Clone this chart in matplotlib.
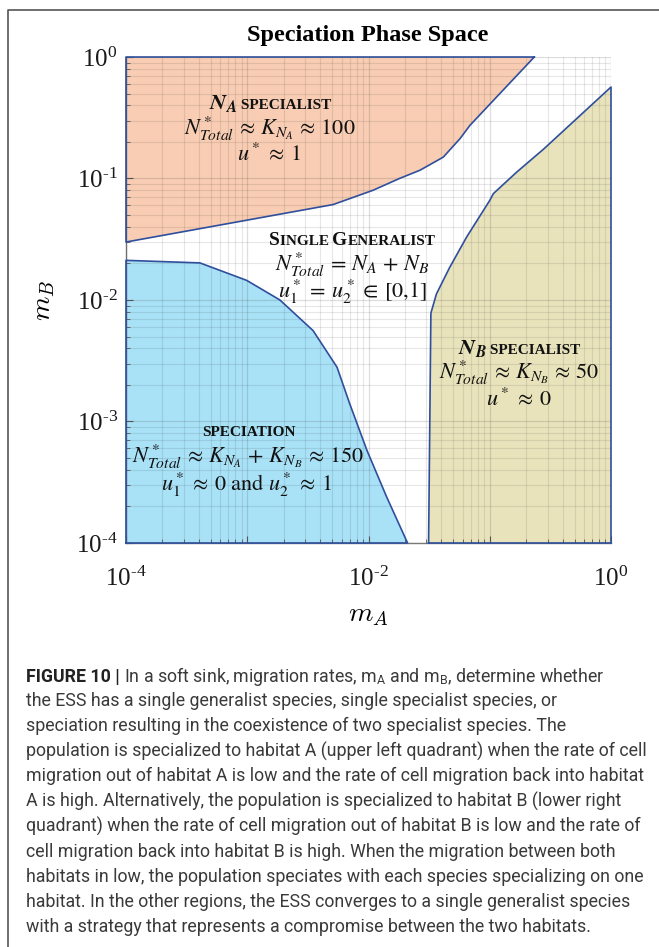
import numpy as np
import matplotlib
matplotlib.use('Agg')
import matplotlib.pyplot as plt
from matplotlib.lines import Line2D
from matplotlib.offsetbox import TextArea, HPacker, AnnotationBbox
from matplotlib.ticker import LogLocator, NullFormatter

plt.rcParams['mathtext.fontset'] = 'custom'
plt.rcParams['mathtext.rm'] = 'Liberation Serif'
plt.rcParams['mathtext.it'] = 'Liberation Serif:italic'
plt.rcParams['mathtext.bf'] = 'Liberation Serif:bold'
plt.rcParams['font.family'] = 'Liberation Serif'

# region boundaries (m_A, m_B)
na_mA = [1.0e-4, 5.1e-3, 1.09e-2, 1.8e-2, 2.66e-2, 4.14e-2, 5.69e-2, 6.87e-2, 0.233]
na_mB = [0.030, 0.061, 0.080, 0.100, 0.117, 0.150, 0.213, 0.274, 1.0]

spec_mA = [1.0e-4, 4.07e-4, 9.9e-4, 1.86e-3, 3.49e-3, 5.5e-3, 7.0e-3, 9.7e-3, 1.41e-2, 2.10e-2]
spec_mB = [0.0212, 0.0202, 0.0145, 0.0100, 5.6e-3, 2.8e-3, 1.4e-3, 5.8e-4, 2.4e-4, 1.0e-4]

nb_mA = [3.13e-2, 3.27e-2, 3.63e-2, 4.68e-2, 6.46e-2, 0.100, 0.107, 0.167, 0.277, 1.0]
nb_mB = [1.0e-4, 7.8e-3, 1.12e-2, 1.86e-2, 3.31e-2, 0.066, 0.075, 0.113, 0.174, 0.566]

xlim = (1e-4, 1.0)
ylim = (1e-4, 1.0)
major_ticks = [1e-4, 1e-3, 1e-2, 1e-1, 1e0]
x_labels = ['$10^{\u2010 4}$', '', '$10^{\u2010 2}$', '', '$10^{0}$']
y_labels = ['$10^{\u2010 4}$', '$10^{\u2010 3}$', '$10^{\u2010 2}$', '$10^{\u2010 1}$', '$10^{0}$']

caption_lines = [
    "In a soft sink, migration rates, m$_{\\mathregular{A}}$ and m$_{\\mathregular{B}}$, determine whether",
    "the ESS has a single generalist species, single specialist species, or",
    "speciation resulting in the coexistence of two specialist species. The",
    "population is specialized to habitat A (upper left quadrant) when the rate of cell",
    "migration out of habitat A is low and the rate of cell migration back into habitat",
    "A is high. Alternatively, the population is specialized to habitat B (lower right",
    "quadrant) when the rate of cell migration out of habitat B is low and the rate of",
    "cell migration back into habitat B is high. When the migration between both",
    "habitats in low, the population speciates with each species specializing on one",
    "habitat. In the other regions, the ESS converges to a single generalist species",
    "with a strategy that represents a compromise between the two habitats.",
]

c_orange = '#f8cdb3'
c_blue = '#a9e1f6'
c_beige = '#e9e3bc'
c_edge = '#2f4f9c'

W, H = 659, 947
fig = plt.figure(figsize=(W / 100, H / 100), dpi=100)
ax = fig.add_axes([126 / W, 1 - 543 / H, 485 / W, 486 / H])
ax.set_xscale('log')
ax.set_yscale('log')
ax.set_xlim(*xlim)
ax.set_ylim(*ylim)

# filled regions
ax.fill([xlim[0]] + na_mA + [xlim[0]], [ylim[1]] + na_mB + [ylim[1]],
        color=c_orange, lw=0, zorder=1)
ax.fill(spec_mA + [xlim[0]], spec_mB + [ylim[0]], color=c_blue, lw=0, zorder=1)
ax.fill(nb_mA + [xlim[1]], nb_mB + [ylim[0]], color=c_beige, lw=0, zorder=1)

# outlines
edge = dict(color=c_edge, lw=1.2, zorder=4, clip_on=False)
ax.plot([na_mA[-1], xlim[0], xlim[0]] + na_mA, [ylim[1], ylim[1], na_mB[0]] + na_mB, **edge)
ax.plot([xlim[0], xlim[0]] + spec_mA + [xlim[0]],
        [ylim[0], spec_mB[0]] + spec_mB + [ylim[0]], **edge)
ax.plot(nb_mA + [xlim[1], nb_mA[0]], nb_mB + [ylim[0], ylim[0]], **edge)

# grid on top of the fills
ax.set_axisbelow(False)
ax.grid(True, which='major', color='#262626', alpha=0.15, lw=0.9)
ax.grid(True, which='minor', color='#262626', alpha=0.11, lw=0.8)

for s in ['top', 'right']:
    ax.spines[s].set_visible(False)
for s in ['left', 'bottom']:
    ax.spines[s].set_color('#7a7a7a')
    ax.spines[s].set_linewidth(1.0)

ax.set_xticks(major_ticks)
ax.set_yticks(major_ticks)
ax.xaxis.set_minor_locator(LogLocator(base=10, subs=np.arange(2, 10), numticks=20))
ax.yaxis.set_minor_locator(LogLocator(base=10, subs=np.arange(2, 10), numticks=20))
ax.xaxis.set_minor_formatter(NullFormatter())
ax.yaxis.set_minor_formatter(NullFormatter())
ax.set_xticklabels(x_labels)
ax.set_yticklabels(y_labels)
ax.tick_params(which='both', direction='in', color='#555555', top=False, right=False)
ax.tick_params(which='major', length=5, labelsize=18, labelcolor='#1a1a1a')
ax.tick_params(which='minor', length=3)
ax.tick_params(axis='x', pad=17)
ax.tick_params(axis='y', pad=6)

fig.text(368 / W, 1 - 36 / H, 'Speciation Phase Space', ha='center', va='center',
         fontsize=17.5, fontweight='bold', family='Liberation Serif')
fig.text(368 / W, 1 - 615 / H, '$m_A$', ha='center', va='center', fontsize=20,
         math_fontfamily='cm')
fig.text(45 / W, 1 - 300 / H, '$m_B$', ha='center', va='center', fontsize=20,
         math_fontfamily='cm', rotation=90)


def place(parts, x, y, align=(0.5, 0.5)):
    areas = [TextArea(s, textprops=p) for s, p in parts]
    box = HPacker(children=areas, align='baseline', pad=0, sep=0)
    ab = AnnotationBbox(box, (x, H - y), xycoords='figure pixels', frameon=False,
                        box_alignment=align, pad=0)
    fig.add_artist(ab)


ink = '#111111'
big = dict(fontsize=14, color=ink, fontweight='bold', family='Liberation Serif')
small = dict(fontsize=11, color=ink, fontweight='bold', family='Liberation Serif')
mathp = dict(fontsize=16, color=ink, math_fontfamily='stix')
nlab = dict(fontsize=16, color=ink, math_fontfamily='stix')

# N_A specialist
place([(r'$\mathbfit{N_A}$', nlab), (' SPECIALIST', small)], 270, 103)
place([(r'$N^*_{Total}\,\approx\,K_{N_A}\,\approx\,100$', mathp)], 270, 129)
place([(r'$u^*\,\approx\,1$', mathp)], 269, 155)

# single generalist
place([('S', big), ('INGLE ', small), ('G', big), ('ENERALIST', small)], 352, 240)
place([(r'$N^*_{Total}\,=\,N_A\,+\,N_B$', mathp)], 352, 265)
place([(r'$u^*_1\,=\,u^*_2\,\in\,[0{,}1]$', mathp)], 352, 292)

# N_B specialist
place([(r'$\mathbfit{N_B}$', nlab), (' SPECIALIST', small)], 519, 348)
place([(r'$N^*_{Total}\,\approx\,K_{N_B}\,\approx\,50$', mathp)], 519, 373)
place([(r'$u^*\,\approx\,0$', mathp)], 519, 400)

# speciation
place([('SPECIATION', small)], 249, 432)
place([(r'$N^*_{Total}\,\approx\,K_{N_A}\,+\,K_{N_B}\,\approx\,150$', mathp)], 248, 457)
place([(r'$u^*_1\,\approx\,0\ \mathrm{and}\ u^*_2\,\approx\,1$', mathp)], 246, 485)

# caption
cap = dict(fontsize=12.8, color='#3a3a3a', family='Roboto')
capb = dict(fontsize=12.8, color='#222222', family='Roboto', fontweight='bold')
place([('FIGURE 10 | ', capb), (caption_lines[0], cap)], 26, 676, align=(0, 0.5))
for i, line in enumerate(caption_lines[1:], start=1):
    fig.text(26 / W, 1 - (676 + 25.1 * i) / H, line, ha='left', va='center', **cap)

# outer frame of the figure panel
fig.add_artist(Line2D([8 / W, 8 / W, 1], [0, 1 - 10 / H, 1 - 10 / H],
                      transform=fig.transFigure, color='#555555', lw=1.2))

fig.savefig('out.png', dpi=100)
